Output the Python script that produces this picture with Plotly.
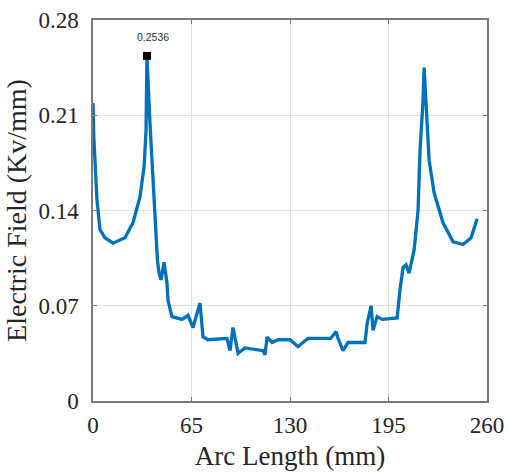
import plotly.graph_objects as go

arc_length = [0, 0.5, 2.6, 4.6, 7.9, 13.2, 21.1, 26.4, 31.0, 33.7, 35.0, 35.6, 37.6, 39.6,
              41.5, 42.5, 43.6, 44.9, 46.9, 48.8, 49.5, 52.1, 58.7, 62.7, 66.0, 70.6, 72.6,
              75.9, 88.4, 90.4, 92.4, 95.7, 100.3, 112.2, 113.5, 114.9, 118.2, 122.1, 130.0,
              135.3, 138.6, 141.9, 156.8, 160.4, 161.7, 165.0, 168.3, 179.5, 180.9, 183.5,
              184.8, 187.5, 190.8, 200.7, 202.6, 204.6, 206.6, 208.6, 211.9, 214.5, 215.8,
              217.8, 218.5, 220.5, 221.8, 225.1, 231.0, 237.6, 244.2, 249.5, 253.5]
e_field = [0.219, 0.195, 0.148, 0.126, 0.120, 0.116, 0.120, 0.131, 0.150, 0.172, 0.199, 0.2536,
           0.204, 0.167, 0.125, 0.104, 0.094, 0.089, 0.102, 0.087, 0.074, 0.062, 0.060, 0.063,
           0.054, 0.072, 0.047, 0.045, 0.046, 0.037, 0.054, 0.035, 0.039, 0.037, 0.034, 0.047,
           0.043, 0.045, 0.045, 0.040, 0.043, 0.046, 0.046, 0.051, 0.046, 0.037, 0.043, 0.043,
           0.057, 0.070, 0.052, 0.062, 0.060, 0.061, 0.082, 0.098, 0.100, 0.094, 0.111, 0.140,
           0.184, 0.221, 0.245, 0.209, 0.177, 0.153, 0.131, 0.117, 0.115, 0.120, 0.134]

peak_x = [35.6]
peak_y = [0.2536]
peak_label = "0.2536"

x_ticks = [0, 65, 130, 195, 260]
y_ticks = [0, 0.07, 0.14, 0.21, 0.28]
y_tick_text = ["0", "0.07", "0.14", "0.21", "0.28"]

font_family = "Liberation Serif, Times New Roman, serif"

fig = go.Figure()
fig.add_trace(go.Scatter(x=arc_length, y=e_field, mode="lines",
                         line=dict(color="#0072BD", width=3.3), showlegend=False))
fig.add_trace(go.Scatter(x=peak_x, y=peak_y, mode="markers",
                         marker=dict(symbol="square", color="black", size=8),
                         showlegend=False))
fig.add_annotation(x=peak_x[0], y=peak_y[0], text=peak_label, showarrow=False,
                   yshift=19, xshift=6,
                   font=dict(family="Liberation Sans, Arial, sans-serif", size=10.5, color="#333333"))

axis_common = dict(showgrid=True, gridcolor="#e3e3e3", gridwidth=1,
                   showline=True, linecolor="#7a7a7a", linewidth=1.5, mirror="ticks",
                   ticks="inside", ticklen=4, tickcolor="#7a7a7a", zeroline=False,
                   automargin=False,
                   tickfont=dict(family=font_family, size=23, color="#262626"))

fig.update_xaxes(range=[0, 260], tickvals=x_ticks, ticktext=[str(v) for v in x_ticks],
                 title=dict(text="Arc Length (mm)", font=dict(family=font_family, size=27, color="#262626"),
                            standoff=9),
                 ticklabelstandoff=3, **axis_common)
fig.update_yaxes(range=[0, 0.28], tickvals=y_ticks, ticktext=y_tick_text,
                 title=dict(text="Electric Field (Kv/mm)", font=dict(family=font_family, size=28, color="#262626"),
                            standoff=4),
                 ticklabelstandoff=8, **axis_common)

fig.update_layout(width=509, height=474, margin=dict(l=93, r=22, t=20, b=73),
                  plot_bgcolor="white", paper_bgcolor="white")

fig.write_html("out.html")
